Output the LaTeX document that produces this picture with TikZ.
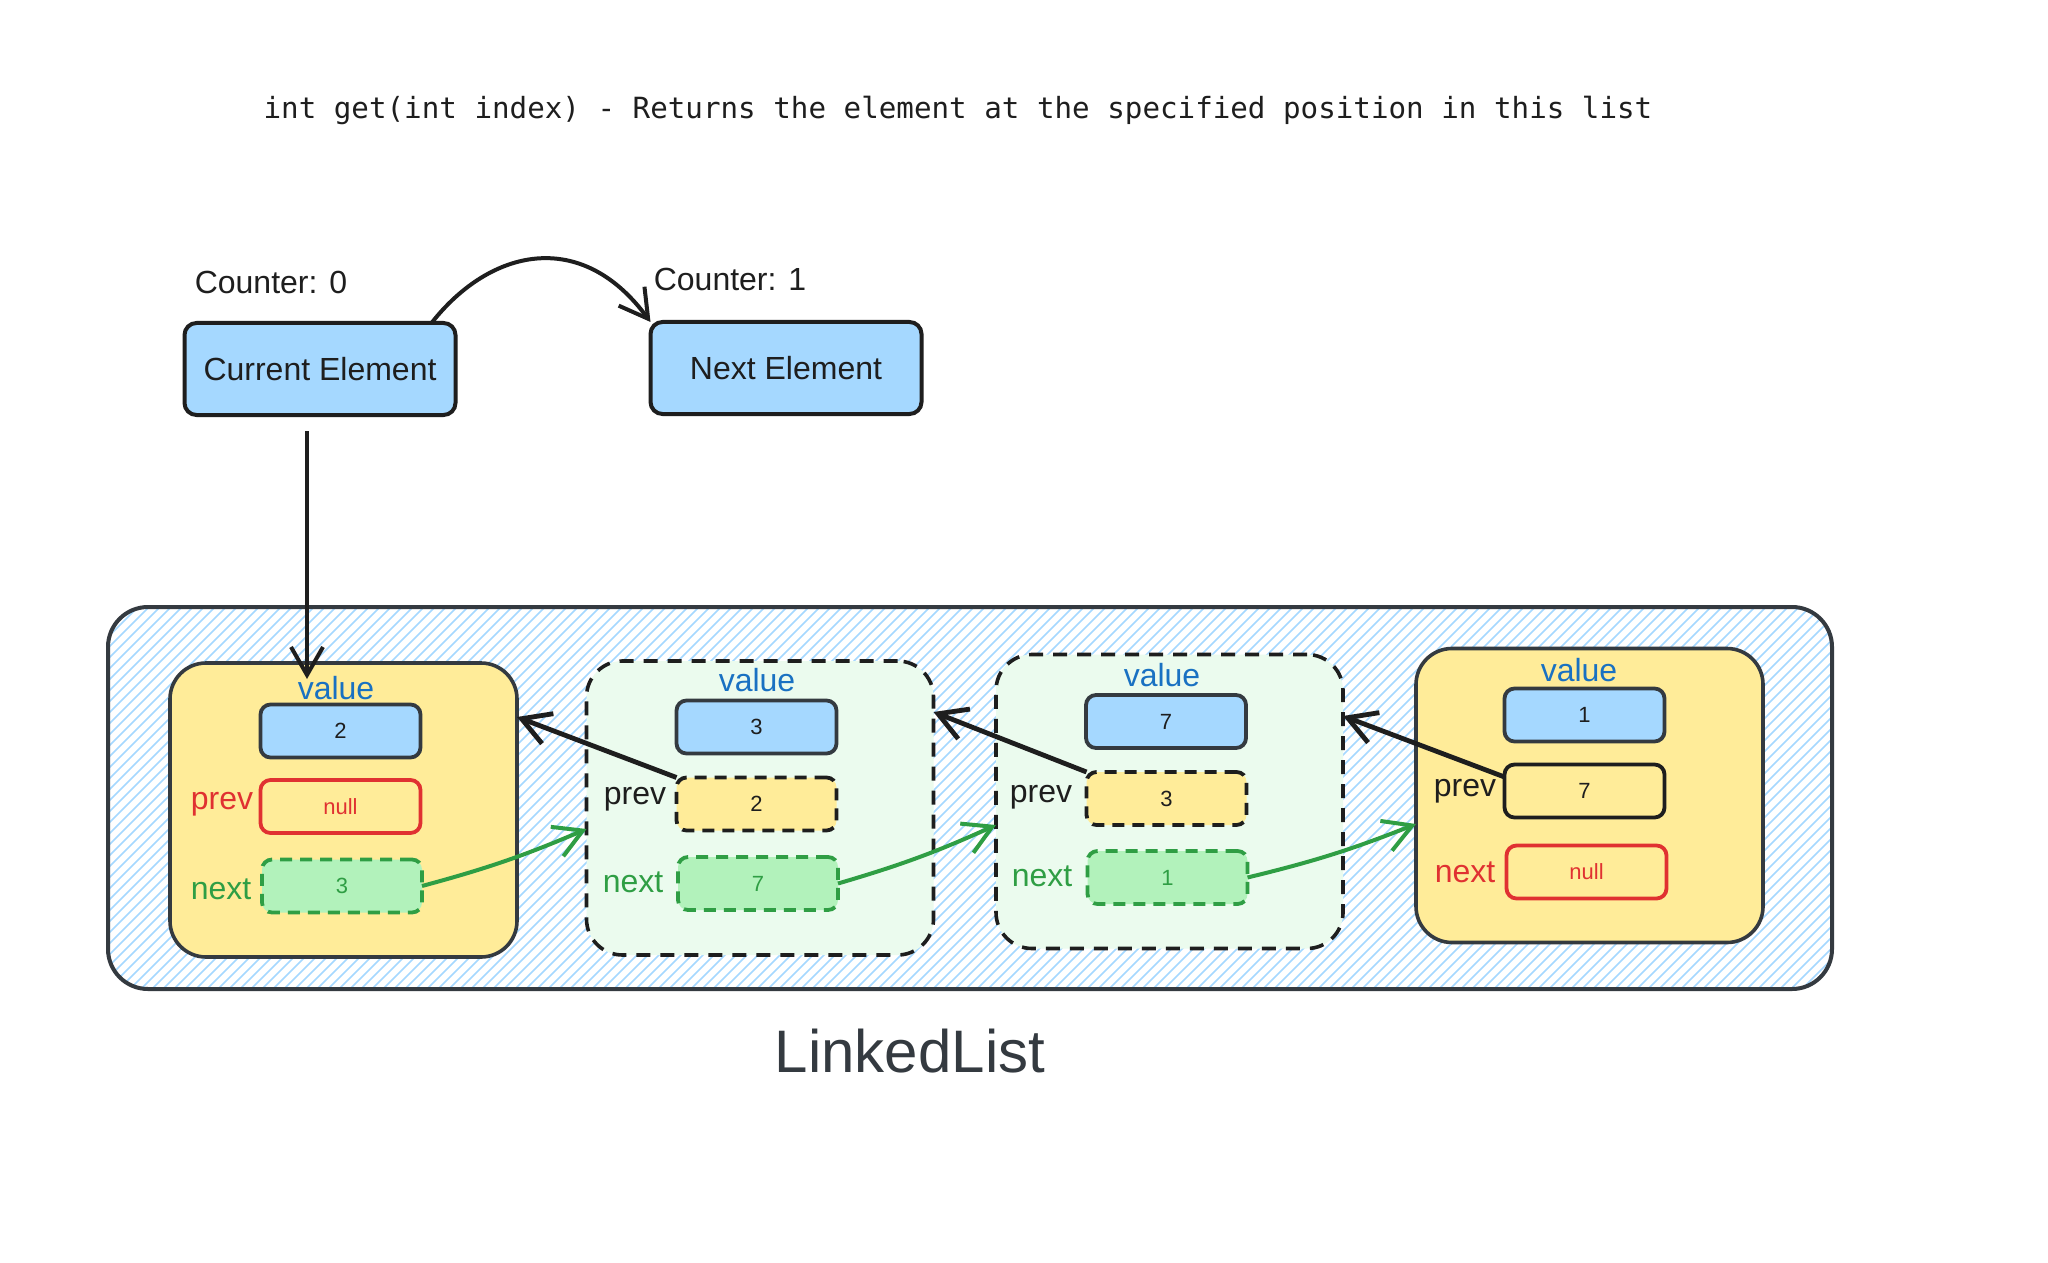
\documentclass[tikz,border=0pt]{standalone}
\usepackage{fontspec}
\setmainfont{Liberation Sans}
\newfontfamily\monofont{DejaVu Sans Mono}
\usetikzlibrary{arrows.meta,calc}
\definecolor{ink}{HTML}{1E1E1E}
\definecolor{slate}{HTML}{343A40}
\definecolor{bluefill}{HTML}{A5D8FF}
\definecolor{yellowfill}{HTML}{FFEC99}
\definecolor{mint}{HTML}{EBFBEE}
\definecolor{greenfill}{HTML}{B2F2BB}
\definecolor{greenink}{HTML}{2F9E44}
\definecolor{redink}{HTML}{E03131}
\definecolor{blueink}{HTML}{1971C2}
\newcommand{\fsz}[1]{\fontsize{#1}{#1}\selectfont}
\begin{document}
\begin{tikzpicture}[x=0.5pt,y=-0.5pt,
  topbox/.style={draw=ink, fill=bluefill, line width=2pt, rounded corners=6pt,
    minimum width=135.5pt, minimum height=46pt, inner sep=0pt, outer sep=0pt,
    font=\fsz{16}, text=ink},
  bignode/.style={line width=1.8pt, rounded corners=18pt, minimum width=173.5pt,
    minimum height=147pt, inner sep=0pt, outer sep=0pt},
  solidnode/.style={bignode, draw=slate, fill=yellowfill},
  dashnode/.style={bignode, draw=ink, fill=mint, dash pattern=on 7pt off 5pt},
  cell/.style={line width=1.9pt, rounded corners=5pt, minimum width=80pt,
    minimum height=26.5pt, inner sep=0pt, outer sep=0pt, font=\fsz{11}},
  valcell/.style={cell, draw=slate, fill=bluefill, text=ink},
  nullcell/.style={cell, draw=redink, text=redink},
  prevcell/.style={cell, draw=ink, fill=yellowfill, text=ink, dash pattern=on 6pt off 4pt},
  prevsolid/.style={cell, draw=ink, text=ink},
  nextcell/.style={cell, draw=greenink, fill=greenfill, text=greenink, dash pattern=on 6pt off 4pt},
  lbl/.style={inner sep=0pt, font=\fsz{16}},
  hatch/.style={draw=bluefill, line width=0.75pt},
  barb/.style={-{Straight Barb[length=14pt,width=16pt]}},
  prevarrow/.style={barb, draw=ink, line width=2.4pt},
  nextarrow/.style={barb, draw=greenink, line width=2pt}
]
\fill[white] (0,0) rectangle (2048,1262);
\useasboundingbox (0,0) rectangle (2048,1262);

% title
\node[font=\monofont\fsz{14.6}, text=ink, inner sep=0pt] (title) at (958,110)
  {int get(int index) - Returns the element at the specified position in this list};

% top boxes
\node[topbox] (Cur) at (320,369) {Current Element};
\node[topbox] (Nxt) at (786,368) {Next Element};
\node[lbl, text=ink] (c0) at (271,282) {Counter: 0};
\node[lbl, text=ink] (c1) at (730,279) {Counter: 1};

% outer LinkedList container with hatching
\node[draw=slate, line width=2pt, rounded corners=20pt, minimum width=862pt,
  minimum height=191pt, inner sep=0pt, outer sep=0pt,
  path picture={
    \foreach \k in {-36,...,158}
      \draw[hatch] ([xshift=\k*5.5pt]path picture bounding box.south west) -- ++(191pt,191pt);
  }] (Outer) at (970,798) {};
\node[inner sep=0pt, font=\fsz{30}, text=slate] (ll) at (910,1051) {LinkedList};

% node 1
\node[solidnode] (N1) at (343.5,810) {};
\node[valcell] (N1v) at (340.5,731) {2};
\node[nullcell] (N1p) at (340.5,806.5) {null};
\node[nextcell] (N1n) at (342,886) {3};
\node[lbl, text=blueink] (N1vl) at (336,688) {value};
\node[lbl, text=redink] (N1pl) at (222,804) {prev};
\node[lbl, text=greenink] (N1nl) at (221,889) {next};

% node 2
\node[dashnode] (N2) at (760,808) {};
\node[valcell] (N2v) at (756.5,727) {3};
\node[prevcell] (N2p) at (756.5,804) {2};
\node[nextcell] (N2n) at (758,883.5) {7};
\node[lbl, text=blueink] (N2vl) at (757,680) {value};
\node[lbl, text=ink] (N2pl) at (635,799) {prev};
\node[lbl, text=greenink] (N2nl) at (633,882) {next};

% node 3
\node[dashnode] (N3) at (1169.5,801.5) {};
\node[valcell] (N3v) at (1166,721.5) {7};
\node[prevcell] (N3p) at (1166.5,798.5) {3};
\node[nextcell] (N3n) at (1167.5,877.5) {1};
\node[lbl, text=blueink] (N3vl) at (1162,675) {value};
\node[lbl, text=ink] (N3pl) at (1041,797) {prev};
\node[lbl, text=greenink] (N3nl) at (1042,876) {next};

% node 4
\node[solidnode] (N4) at (1589.5,795.5) {};
\node[valcell] (N4v) at (1584.5,715) {1};
\node[prevsolid] (N4p) at (1584.5,791) {7};
\node[nullcell] (N4n) at (1586.5,872) {null};
\node[lbl, text=blueink] (N4vl) at (1579,670) {value};
\node[lbl, text=ink] (N4pl) at (1465,791) {prev};
\node[lbl, text=redink] (N4nl) at (1465,872) {next};

% counter arrow
\draw[barb, draw=ink, line width=2pt] ([xshift=-12pt]Cur.north east)
  .. controls +(59,-75) and +(-69,-94) .. (Nxt.north west);
% pointer arrow down
\draw[barb, draw=ink, line width=2pt] ([xshift=-6.5pt,yshift=-8pt]Cur.south)
  -- ([xshift=-6.5pt,yshift=-8pt]Cur.south |- N1.north);

% prev arrows
\draw[prevarrow] (N2p.north west) -- ([yshift=46.5pt]N1.east);
\draw[prevarrow] (N3p.north west) -- ([yshift=48pt]N2.east);
\draw[prevarrow] ([yshift=7pt]N4p.west) -- ([yshift=42.75pt]N3.east);

% next arrows
\draw[nextarrow] (N1n.east) to[bend right=4] ([yshift=-10.5pt]N2.west);
\draw[nextarrow] (N2n.east) to[bend right=4] ([yshift=-11.75pt]N3.west);
\draw[nextarrow] (N3n.east) to[bend right=4] ([yshift=-14.25pt]N4.west);
\end{tikzpicture}
\end{document}
